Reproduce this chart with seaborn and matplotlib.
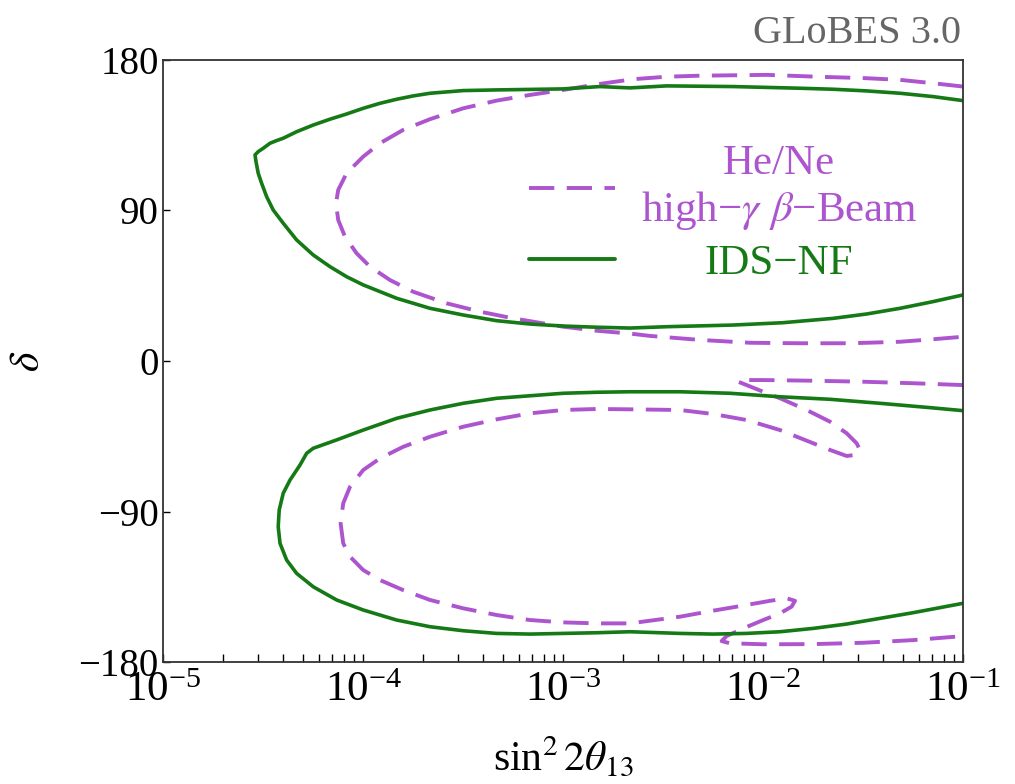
import numpy as np
import pandas as pd
import matplotlib
matplotlib.use("Agg")
import matplotlib.pyplot as plt
import matplotlib.transforms as mtransforms
from matplotlib.lines import Line2D
from matplotlib.ticker import LogLocator, FixedLocator, FixedFormatter
import seaborn as sns

# ---------------- data ----------------
# x values are given as log10(sin^2 2theta13); delta in degrees.
# IDS-NF, upper region
nf_up_logx = [-1.0, -1.15, -1.315, -1.482, -1.649, -1.815, -2.149, -2.482, -2.665, -2.815,
              -3.0, -3.165, -3.332, -3.499, -3.665, -3.749, -3.832, -3.915, -3.999, -4.082,
              -4.165, -4.249, -4.332, -4.399, -4.432, -4.465, -4.499, -4.524, -4.54,
              -4.535, -4.524, -4.507, -4.482, -4.449, -4.399, -4.332, -4.249, -4.165, -4.082,
              -3.999, -3.832, -3.665, -3.499, -3.332, -3.165, -2.999, -2.832, -2.665, -2.482,
              -2.149, -1.9, -1.649, -1.482, -1.315, -1.15, -1.0]
nf_up_d = [155.7, 158.1, 160.1, 161.5, 162.5, 163.1, 164.1, 164.5, 163.3, 164.1,
           162.7, 162.4, 162.1, 161.7, 160.1, 158.5, 156.5, 154.1, 151.1, 147.7,
           144.6, 141.1, 137.1, 133.2, 131.8, 130.2, 127.2, 125.2, 123.2,
           119.2, 112.3, 106.3, 98.3, 90.3, 82.4, 72.4, 63.4, 56.4, 50.4,
           45.5, 37.5, 31.5, 27.5, 24.1, 22.1, 20.9, 20.2, 19.7, 20.5,
           21.5, 22.9, 25.5, 28.1, 31.5, 35.5, 39.5]

# IDS-NF, lower region
nf_lo_logx = [-1.0, -1.165, -1.415, -1.665, -1.915, -2.165, -2.415, -2.665, -2.832, -2.999,
              -3.165, -3.332, -3.499, -3.665, -3.832, -3.999, -4.132, -4.249, -4.282, -4.315,
              -4.365, -4.399, -4.419, -4.424, -4.415, -4.382, -4.332, -4.249, -4.132, -3.999,
              -3.832, -3.665, -3.499, -3.332, -3.165, -2.999, -2.832, -2.665, -2.415, -2.25,
              -2.082, -1.915, -1.749, -1.582, -1.415, -1.249, -1.0]
nf_lo_d = [-29.7, -27.9, -25.3, -22.9, -21.4, -19.3, -18.4, -18.4, -18.7, -19.3,
           -20.8, -22.3, -25.3, -29.3, -34.3, -41.3, -47.2, -52.2, -55.2, -62.2,
           -71.2, -79.1, -89.1, -99.1, -109.0, -119.0, -127.0, -135.0, -142.9, -148.9,
           -154.9, -158.9, -161.3, -162.9, -163.3, -162.9, -162.5, -161.9, -162.9, -163.3,
           -162.9, -161.9, -159.9, -157.3, -153.9, -150.5, -144.9]

# He/Ne high-gamma beta-Beam, upper region
bb_up_logx = [-1.0, -1.15, -1.315, -1.482, -1.732, -1.982, -2.315, -2.482, -2.65, -2.815,
              -2.999, -3.165, -3.332, -3.499, -3.665, -3.799, -3.915, -3.999, -4.082, -4.124,
              -4.135, -4.124, -4.09, -4.032, -3.965, -3.865, -3.749, -3.582, -3.415, -3.249,
              -2.999, -2.832, -2.665, -2.565, -2.315, -2.065, -1.815, -1.565, -1.315, -1.15,
              -1.0]
bb_up_d = [164.1, 166.1, 168.1, 169.1, 170.0, 171.1, 170.6, 170.0, 168.5, 165.7,
           162.1, 159.1, 155.7, 151.1, 144.6, 138.2, 130.2, 122.2, 112.3, 102.3,
           94.3, 84.3, 74.3, 64.4, 56.4, 48.4, 41.4, 34.5, 29.5, 25.5,
           20.5, 18.1, 16.4, 15.0, 12.6, 10.9, 10.6, 10.6, 11.5, 13.0,
           14.5]

# He/Ne high-gamma beta-Beam, lower region (with its two hooks)
bb_lo_logx = [-1.0, -1.249, -1.499, -1.749, -1.999, -2.115, -2.124, -2.082, -1.999, -1.915,
              -1.782, -1.665, -1.582, -1.532, -1.515, -1.54, -1.582, -1.665, -1.749, -1.915,
              -2.082, -2.249, -2.415, -2.665, -2.832, -2.999, -3.165, -3.332, -3.499, -3.665,
              -3.799, -3.915, -3.999, -4.065, -4.099, -4.112, -4.099, -4.065, -3.999, -3.915,
              -3.799, -3.665, -3.499, -3.332, -3.165, -2.999, -2.832, -2.665, -2.415, -2.249,
              -2.082, -1.965, -1.882, -1.84, -1.857, -1.915, -1.999, -2.099, -2.182, -2.207,
              -2.165, -1.999, -1.749, -1.499, -1.249, -1.0]
bb_lo_d = [-14.4, -13.3, -12.4, -11.8, -11.4, -11.4, -12.4, -14.4, -18.4, -22.3,
           -29.3, -36.3, -43.2, -49.2, -53.2, -56.2, -56.8, -53.2, -49.2, -41.3,
           -35.3, -31.7, -29.3, -28.9, -28.7, -29.3, -31.3, -34.9, -39.3, -45.3,
           -51.3, -58.2, -65.2, -75.2, -85.1, -97.1, -109.0, -117.0, -125.0, -131.0,
           -137.0, -142.9, -147.9, -151.9, -154.9, -156.3, -156.9, -156.9, -152.9, -149.3,
           -145.9, -143.4, -141.9, -143.4, -146.9, -150.9, -154.9, -159.9, -164.5, -167.5,
           -168.8, -169.4, -169.3, -168.5, -166.9, -164.5]

labels = ["He/Ne\nhigh\u2212$\\gamma$ $\\beta$\u2212Beam", "IDS\u2212NF"]
x_ticks = [1e-5, 1e-4, 1e-3, 1e-2, 1e-1]
y_ticks = [-180, -90, 0, 90, 180]
y_ticklabels = ["\u2212180", "\u221290", "0", "90", "180"]

# ---------------- style ----------------
sns.set_theme(style="white")
plt.rcParams["font.family"] = ["Liberation Serif", "DejaVu Serif"]
plt.rcParams["mathtext.fontset"] = "stix"

PURPLE = "#AD55CF"
GREEN = "#157A15"
GRAY = "#666666"
DASH = (6.5, 3.2)

fig = plt.figure(figsize=(10.15, 7.84), dpi=100)
ax = fig.add_axes([0.1606, 0.1556, 0.7882, 0.7679])

curves = [
    (bb_up_logx, bb_up_d, "bb"), (bb_lo_logx, bb_lo_d, "bb"),
    (nf_up_logx, nf_up_d, "nf"), (nf_lo_logx, nf_lo_d, "nf"),
]
for lx, ds, kind in curves:
    df = pd.DataFrame({"x": 10.0 ** np.asarray(lx), "delta": ds})
    if kind == "bb":
        sns.lineplot(data=df, x="x", y="delta", sort=False, estimator=None, ax=ax,
                     color=PURPLE, linewidth=2.8)
        ax.lines[-1].set_dashes(DASH)
    else:
        sns.lineplot(data=df, x="x", y="delta", sort=False, estimator=None, ax=ax,
                     color=GREEN, linewidth=2.6)

ax.set_xscale("log")
ax.set_xlim(1e-5, 1e-1)
ax.set_ylim(-180, 180)
ax.xaxis.set_major_locator(FixedLocator(x_ticks))
ax.xaxis.set_minor_locator(LogLocator(base=10, subs=np.arange(2, 10)))
ax.yaxis.set_major_locator(FixedLocator(y_ticks))
ax.yaxis.set_major_formatter(FixedFormatter(y_ticklabels))

ax.tick_params(axis="both", which="both", direction="in", colors="black",
               bottom=True, left=True, top=False, right=False, width=1.0)
ax.tick_params(axis="x", which="major", length=6, labelsize=31, pad=7)
ax.tick_params(axis="x", which="minor", length=6)
ax.tick_params(axis="y", which="major", length=5, labelsize=28, pad=3)
for s in ax.spines.values():
    s.set_color("#333333")
    s.set_linewidth(1.3)

ax.set_xlabel(r"$\mathregular{sin}^2\,2\theta_{13}$", fontsize=30, color="black", labelpad=18)
ax.set_ylabel(r"$\delta$", fontsize=30, color="black", labelpad=22)

# GLoBES label
fig.text(0.947, 0.945, "GL\u1d0fBES 3.0", ha="right", va="baseline", fontsize=29,
         color=GRAY, family=["Liberation Serif", "DejaVu Serif"])

# legend
handles = [Line2D([], [], color=PURPLE, lw=2.8, dashes=DASH),
           Line2D([], [], color=GREEN, lw=2.8)]
leg = ax.legend(handles, labels, loc="upper right", bbox_to_anchor=(0.943, 0.86),
                frameon=False, fontsize=31, handlelength=2.0, handletextpad=0.6,
                labelspacing=0.28, borderpad=0, borderaxespad=0)
texts = leg.get_texts()
texts[0].set_color(PURPLE)
texts[1].set_color(GREEN)
texts[0].set_multialignment("center")
fig.canvas.draw()
w0 = texts[0].get_window_extent().width
w1 = texts[1].get_window_extent().width
texts[1].set_transform(texts[1].get_transform() +
                       mtransforms.Affine2D().translate((w0 - w1) / 2, 0))

fig.savefig("out.png", dpi=100)
